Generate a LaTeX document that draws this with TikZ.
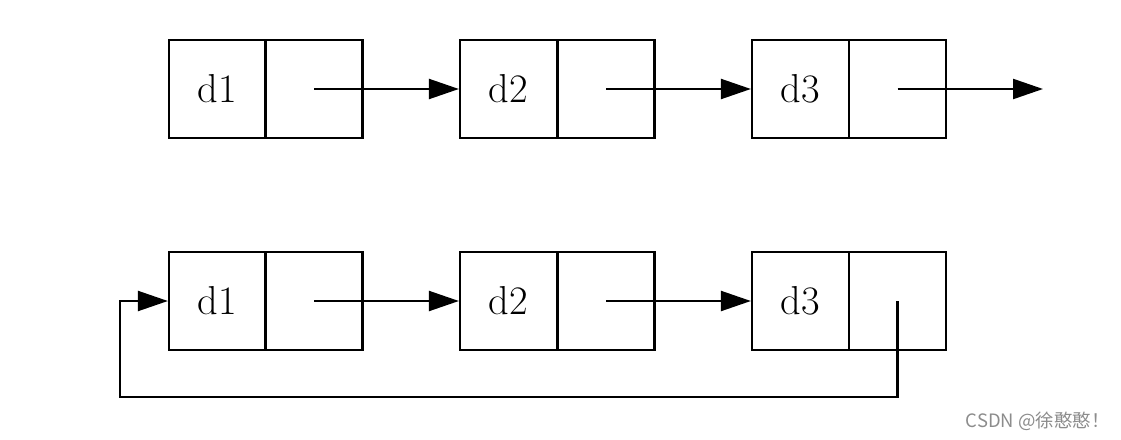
\documentclass[tikz,border=0pt]{standalone}
\usepackage{fontspec}
\newfontfamily\cjk{Noto Sans CJK SC}
\usetikzlibrary{arrows.meta,positioning}

\begin{document}
\begin{tikzpicture}[
  x=0.02cm,y=-0.02cm,
  cell/.style={draw,line width=1.3pt,minimum width=1.94cm,minimum height=1.96cm,
               inner sep=0pt,font=\fontsize{23}{25}\selectfont},
  link/.style={-{Triangle[length=0.6cm,width=0.4cm]},line width=1.3pt},
]
  \useasboundingbox (0,0) rectangle (1121,439);

  % Row 1: plain linked list
  \node[cell] (d1) at (217.5,89) {d1};
  \node[cell] (p1) at (314,89) {};
  \node[cell] (d2) at (508.5,89) {d2};
  \node[cell] (p2) at (606,89) {};
  \node[cell] (d3) at (800.5,89) {d3};
  \node[cell] (p3) at (897.5,89) {};
  \coordinate (tail) at (1043,89);

  \draw[link] (p1.center) -- (d2.west);
  \draw[link] (p2.center) -- (d3.west);
  \draw[link] (p3.center) -- (tail);

  % Row 2: circular linked list
  \node[cell] (e1) at (217.5,301) {d1};
  \node[cell] (q1) at (314,301) {};
  \node[cell] (e2) at (508.5,301) {d2};
  \node[cell] (q2) at (606,301) {};
  \node[cell] (e3) at (800.5,301) {d3};
  \node[cell] (q3) at (897.5,301) {};
  \coordinate (loop) at (120,397);

  \draw[link] (q1.center) -- (e2.west);
  \draw[link] (q2.center) -- (e3.west);
  \draw[link] (q3.center) |- (loop) |- (e1.west);

  % watermark
  \node[anchor=east,text=black!45,font=\cjk\fontsize{10.5}{12}\selectfont,inner sep=0pt]
    (mark) at (1110,421) {CSDN @徐憨憨！};
\end{tikzpicture}
\end{document}
